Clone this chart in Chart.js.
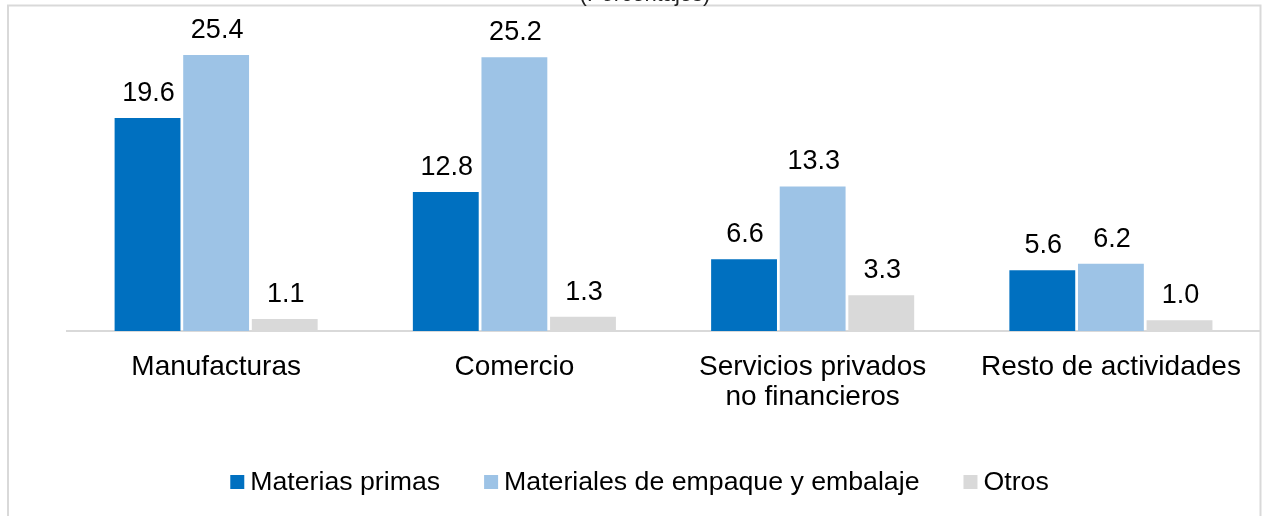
<!DOCTYPE html>
<html>
<head>
<meta charset="utf-8">
<script src="https://cdn.jsdelivr.net/npm/chart.js@4.4.1/dist/chart.umd.min.js"></script>
<style>
html,body{margin:0;padding:0;background:#fff;}
#wrap{width:1262px;height:516px;position:relative;}
</style>
</head>
<body>
<div id="wrap"><canvas id="c" width="1262" height="516"></canvas></div>
<script>
const categories = ['Manufacturas', 'Comercio', ['Servicios privados', 'no financieros'], 'Resto de actividades'];
const seriesNames = ['Materias primas', 'Materiales de empaque y embalaje', 'Otros'];
const materiasPrimas = [19.6, 12.8, 6.6, 5.6];
const materialesEmpaque = [25.4, 25.2, 13.3, 6.2];
const otros = [1.1, 1.3, 3.3, 1.0];
const colors = ['#0070C0', '#9DC3E6', '#D9D9D9'];
const titleText = '(Porcentajes)';

const FONT = '"Liberation Sans", Arial, sans-serif';

const framePlugin = {
  id: 'frame',
  beforeDraw(chart) {
    const ctx = chart.ctx;
    ctx.save();
    ctx.strokeStyle = '#D9D9D9';
    ctx.lineWidth = 2;
    ctx.beginPath();
    ctx.moveTo(8, 530);
    ctx.lineTo(8, 5.5);
    ctx.lineTo(1260.5, 5.5);
    ctx.lineTo(1260.5, 530);
    ctx.stroke();
    ctx.fillStyle = '#222';
    ctx.font = '22px ' + FONT;
    ctx.textAlign = 'center';
    ctx.textBaseline = 'alphabetic';
    ctx.fillText(titleText, 645, 1);
    ctx.restore();
  }
};

const labelsPlugin = {
  id: 'valueLabels',
  afterDatasetsDraw(chart) {
    const ctx = chart.ctx;
    ctx.save();
    ctx.fillStyle = '#000';
    ctx.font = '27px ' + FONT;
    ctx.textAlign = 'center';
    ctx.textBaseline = 'alphabetic';
    chart.data.datasets.forEach((ds, i) => {
      const meta = chart.getDatasetMeta(i);
      meta.data.forEach((el, j) => {
        ctx.fillText(ds.data[j].toFixed(1), el.x + 1, el.y - 17);
      });
    });
    ctx.restore();
  }
};

const legendPlugin = {
  id: 'customLegend',
  afterDraw(chart) {
    const ctx = chart.ctx;
    ctx.save();
    ctx.font = '26.7px ' + FONT;
    const box = 14, gap = 6, spacing = 44;
    const items = chart.data.datasets.map(ds => ({ label: ds.label, color: ds.backgroundColor, w: ctx.measureText(ds.label).width }));
    let total = 0;
    items.forEach((it, k) => { total += box + gap + it.w + (k < items.length - 1 ? spacing : 0); });
    let x = 639.5 - total / 2;
    const yc = 482;
    ctx.textBaseline = 'middle';
    ctx.textAlign = 'left';
    items.forEach(it => {
      ctx.fillStyle = it.color;
      ctx.fillRect(x, yc - 7, box, box);
      ctx.fillStyle = '#000';
      ctx.fillText(it.label, x + box + gap, yc + 1);
      x += box + gap + it.w + spacing;
    });
    ctx.restore();
  }
};

const seriesData = [materiasPrimas, materialesEmpaque, otros];

new Chart(document.getElementById('c'), {
  type: 'bar',
  data: {
    labels: categories,
    datasets: seriesNames.map((n, i) => ({
      label: n,
      data: seriesData[i],
      backgroundColor: colors[i],
      borderWidth: 0,
      categoryPercentage: 0.69,
      barPercentage: 0.96
    }))
  },
  options: {
    responsive: false,
    animation: false,
    events: [],
    layout: { padding: { left: 67, right: 1, top: 5, bottom: 0 } },
    plugins: {
      legend: { display: false },
      tooltip: { enabled: false },
      title: { display: false }
    },
    scales: {
      x: {
        grid: { display: false, drawTicks: false },
        border: { display: true, color: '#D9D9D9', width: 2 },
        ticks: {
          color: '#000',
          font: { family: FONT, size: 28, lineHeight: 1.08 },
          padding: 21,
          maxRotation: 0,
          autoSkip: false
        },
        afterFit(s) { s.height = 185; }
      },
      y: {
        display: false,
        min: 0,
        max: 30
      }
    }
  },
  plugins: [framePlugin, labelsPlugin, legendPlugin]
});
</script>
</body>
</html>
